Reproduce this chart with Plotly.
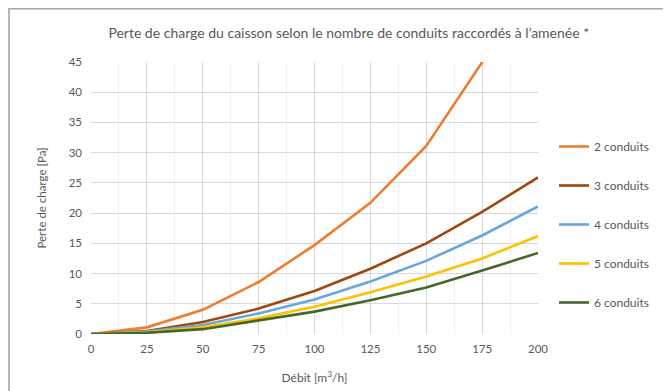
import plotly.graph_objects as go

debit = [0, 25, 50, 75, 100, 125, 150, 175, 200]
conduits_2 = [0, 1.1, 4.0, 8.6, 14.7, 21.7, 31.1, 45.0, 58.8]
conduits_3 = [0, 0.5, 2.0, 4.2, 7.1, 10.8, 15.0, 20.2, 25.9]
conduits_4 = [0, 0.4, 1.5, 3.4, 5.7, 8.7, 12.1, 16.3, 21.1]
conduits_5 = [0, 0.3, 1.1, 2.6, 4.5, 6.9, 9.5, 12.5, 16.2]
conduits_6 = [0, 0.2, 0.8, 2.2, 3.7, 5.6, 7.7, 10.5, 13.4]

series = [
    ("2 conduits", conduits_2, "#ED7D31"),
    ("3 conduits", conduits_3, "#9E480E"),
    ("4 conduits", conduits_4, "#6AA6DC"),
    ("5 conduits", conduits_5, "#FFC000"),
    ("6 conduits", conduits_6, "#43682B"),
]

FONT = "Lato"
GREY = "#595959"

fig = go.Figure()
for i, (name, vals, color) in enumerate(series):
    fig.add_trace(
        go.Scatter(
            x=debit,
            y=vals,
            name=name,
            mode="lines",
            line=dict(color=color, width=2.6),
            legendgroup=f"g{i}",
        )
    )

# page body has an 8px margin, so the figure is drawn 8px in from the corner
W, H = 663, 383
ml, mr, mt, mb = 83, 133, 54, 57
pw, ph = W - ml - mr, H - mt - mb


def px_x(p):
    return (p - ml) / pw


def px_y(p):
    return (H - mb - p) / ph


fig.update_layout(
    width=W,
    height=H,
    margin=dict(l=ml, r=mr, t=mt, b=mb, autoexpand=False),
    paper_bgcolor="white",
    plot_bgcolor="white",
    font=dict(family=FONT, color=GREY, size=12),
    title=dict(
        text="Perte de charge du caisson selon le nombre de conduits raccordés à l’amenée *",
        x=0.514,
        xanchor="center",
        y=1 - 25 / H,
        yanchor="middle",
        font=dict(size=14, color=GREY),
    ),
    showlegend=True,
    legend=dict(
        x=px_x(546),
        xanchor="left",
        y=px_y(124),
        yanchor="top",
        tracegroupgap=20,
        font=dict(size=12, color=GREY),
        bgcolor="rgba(0,0,0,0)",
    ),
    shapes=[
        dict(type="line", xref="paper", yref="paper",
             x0=px_x(0.5), x1=px_x(W + 5), y0=px_y(0.6), y1=px_y(0.6),
             line=dict(color="#A6A6A6", width=1.6)),
        dict(type="line", xref="paper", yref="paper",
             x0=px_x(1), x1=px_x(1), y0=px_y(0), y1=px_y(H + 5),
             line=dict(color="#A6A6A6", width=1.6)),
    ],
)

fig.update_xaxes(
    range=[0, 200],
    tickvals=[0, 25, 50, 75, 100, 125, 150, 175, 200],
    showgrid=True,
    gridcolor="#D9D9D9",
    gridwidth=1.2,
    minor=dict(dtick=12.5, tick0=0, showgrid=True, gridcolor="#F0F0F0", gridwidth=1),
    zeroline=False,
    showline=False,
    ticks="",
    automargin=False,
    ticklabelstandoff=6,
    tickfont=dict(size=11.5, color=GREY),
    title=dict(text="Débit [m<sup>3</sup>/h]", font=dict(size=12, color=GREY), standoff=20),
)
fig.update_yaxes(
    range=[0, 45],
    dtick=5,
    showgrid=True,
    gridcolor="#D9D9D9",
    gridwidth=1.2,
    zeroline=False,
    showline=False,
    ticks="",
    automargin=False,
    ticklabelstandoff=8,
    tickfont=dict(size=11.5, color=GREY),
    title=dict(text="Perte de charge [Pa]", font=dict(size=11.5, color=GREY), standoff=19),
)

fig.write_html("out.html")
